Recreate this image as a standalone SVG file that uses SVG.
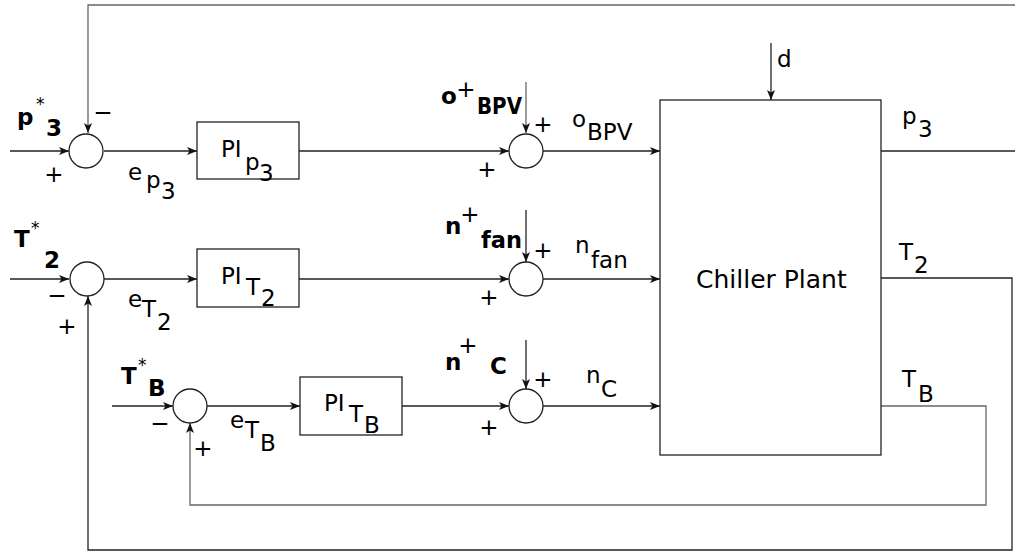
<svg xmlns="http://www.w3.org/2000/svg" width="1015" height="554" viewBox="0 0 1015 554">
<style>
text{font-family:"DejaVu Sans","Liberation Sans",sans-serif;font-size:23px;fill:#000}
.b{font-weight:bold;font-size:23px}
.st{font-size:17px}
.big{font-size:25px}
.ln{fill:none;stroke:#222;stroke-width:1.3}
.gr{stroke:#666}
.blk{fill:#fff;stroke:#222;stroke-width:1.3}
</style>
<defs>
<marker id="ar" viewBox="0 0 10 8" refX="10" refY="4" markerWidth="10" markerHeight="8" markerUnits="userSpaceOnUse" orient="auto">
<path d="M0,0 L10,4 L0,8 L2.5,4 Z" fill="#111"/>
</marker>
</defs>
<rect width="1015" height="554" fill="#fff"/>
<g id="connectors">
<path class="ln gr" d="M1015,5 H88 V133" marker-end="url(#ar)"/>
<path class="ln" d="M10,151 H69" marker-end="url(#ar)"/>
<path class="ln" d="M104,151 H197" marker-end="url(#ar)"/>
<path class="ln" d="M299,151 H509" marker-end="url(#ar)"/>
<path class="ln" d="M543,151 H660" marker-end="url(#ar)"/>
<path class="ln gr" d="M526,82 V133" marker-end="url(#ar)"/>
<path class="ln" d="M881,151 H1015"/>
<path class="ln" d="M771,43 V100" marker-end="url(#ar)"/>
<path class="ln" d="M10,279 H69" marker-end="url(#ar)"/>
<path class="ln" d="M104,279 H197" marker-end="url(#ar)"/>
<path class="ln" d="M299,279 H509" marker-end="url(#ar)"/>
<path class="ln" d="M543,279 H660" marker-end="url(#ar)"/>
<path class="ln" d="M526,210 V262" marker-end="url(#ar)"/>
<path class="ln" d="M881,278 H1012 V550 H88 V296" marker-end="url(#ar)"/>
<path class="ln" d="M112,406 H173" marker-end="url(#ar)"/>
<path class="ln" d="M207,406 H300" marker-end="url(#ar)"/>
<path class="ln" d="M402,406 H509" marker-end="url(#ar)"/>
<path class="ln" d="M543,406 H660" marker-end="url(#ar)"/>
<path class="ln" d="M526,340 V389" marker-end="url(#ar)"/>
<path class="ln gr" d="M881,406 H986 V505 H190 V423" marker-end="url(#ar)"/>
</g>
<g id="sum1"><circle class="blk" cx="86" cy="151" r="17"/></g>
<g id="sum2"><circle class="blk" cx="526" cy="151" r="17"/></g>
<g id="sum3"><circle class="blk" cx="87" cy="279" r="17"/></g>
<g id="sum4"><circle class="blk" cx="526" cy="279" r="17"/></g>
<g id="sum5"><circle class="blk" cx="190" cy="406" r="17"/></g>
<g id="sum6"><circle class="blk" cx="526" cy="406" r="17"/></g>
<g id="pi_p3"><rect class="blk" x="197" y="122" width="102" height="57"/>
<text x="221" y="157">PI</text><text x="245" y="170">p</text><text x="259" y="181">3</text></g>
<g id="pi_t2"><rect class="blk" x="197" y="249" width="102" height="58"/>
<text x="221" y="284">PI</text><text x="246" y="295">T</text><text x="261" y="306">2</text></g>
<g id="pi_tb"><rect class="blk" x="300" y="377" width="102" height="58"/>
<text x="324" y="411">PI</text><text x="349" y="422">T</text><text x="364" y="433">B</text></g>
<g id="plant"><rect class="blk" x="660" y="100" width="221" height="355"/>
<text class="big" x="696" y="288">Chiller Plant</text></g>
<g id="labels">
<text class="b" x="17" y="125">p</text><text class="st" x="36" y="110">*</text><text class="b" x="46" y="136">3</text>
<text x="54" y="182" text-anchor="middle">+</text>
<text x="103" y="120" text-anchor="middle">−</text>
<text x="128" y="180">e</text><text x="146" y="188">p</text><text x="161" y="199">3</text>
<text class="b" x="441" y="104">o</text><text x="466" y="97" text-anchor="middle">+</text><text class="b" x="477" y="114" textLength="45" lengthAdjust="spacingAndGlyphs">BPV</text>
<text x="543" y="132" text-anchor="middle">+</text>
<text x="487" y="177" text-anchor="middle">+</text>
<text x="572" y="127">o</text><text x="587" y="140">BPV</text>
<text x="777" y="67">d</text>
<text x="902" y="124">p</text><text x="918" y="137">3</text>

<text class="b" x="14" y="247">T</text><text class="st" x="31" y="234">*</text><text class="b" x="44" y="268">2</text>
<text x="57" y="303" text-anchor="middle">−</text>
<text x="67" y="334" text-anchor="middle">+</text>
<text x="128" y="307">e</text><text x="142" y="317">T</text><text x="157" y="330">2</text>
<text class="b" x="445" y="234">n</text><text x="470" y="222" text-anchor="middle">+</text><text class="b" x="481" y="248" textLength="41" lengthAdjust="spacingAndGlyphs">fan</text>
<text x="543" y="258" text-anchor="middle">+</text>
<text x="489" y="305" text-anchor="middle">+</text>
<text x="575" y="253">n</text><text x="591" y="268">fan</text>
<text x="899" y="260">T</text><text x="914" y="273">2</text>

<text class="b" x="121" y="384">T</text><text class="st" x="138" y="371">*</text><text class="b" x="148" y="396">B</text>
<text x="160" y="431" text-anchor="middle">−</text>
<text x="203" y="456" text-anchor="middle">+</text>
<text x="230" y="428">e</text><text x="245" y="438">T</text><text x="260" y="451">B</text>
<text class="b" x="445" y="370">n</text><text x="468" y="353" text-anchor="middle">+</text><text class="b" x="490" y="374">C</text>
<text x="543" y="387" text-anchor="middle">+</text>
<text x="489" y="435" text-anchor="middle">+</text>
<text x="586" y="383">n</text><text x="601" y="397">C</text>
<text x="902" y="387">T</text><text x="918" y="402">B</text>
</g>
</svg>
